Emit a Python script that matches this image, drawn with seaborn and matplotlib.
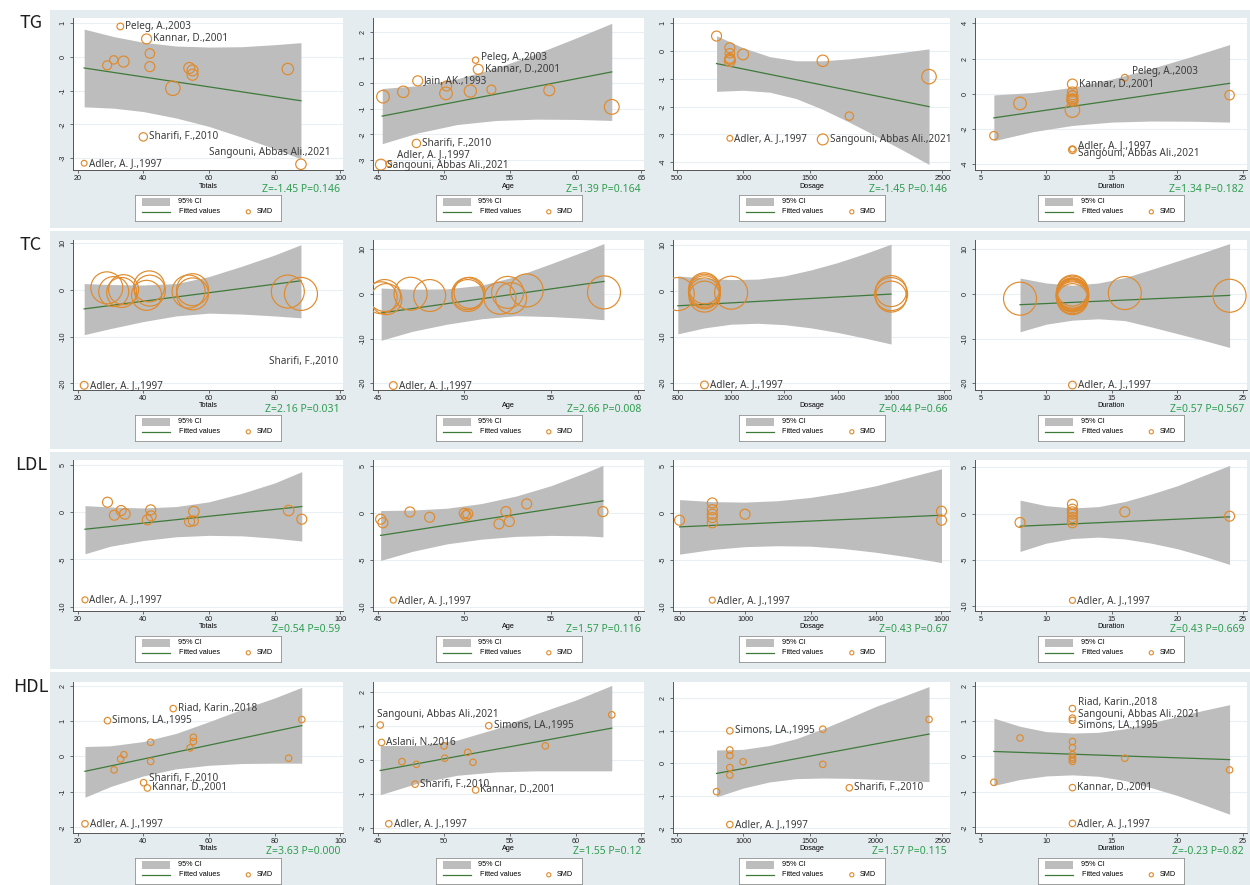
import numpy as np
import pandas as pd
import matplotlib
matplotlib.use("Agg")
import matplotlib.pyplot as plt
import seaborn as sns
from matplotlib.patches import Rectangle


# ==== data: (covariate, SMD, weight, study label) ====
TG_TOTALS = [
    (22, -3.15, 0.33, "Adler, A. J.,1997"), (33, 0.90, 0.45, "Peleg, A.,2003"),
    (41, 0.53, 1.00, "Kannar, D.,2001"), (42, 0.10, 0.90, ""), (29, -0.25, 0.81, ""),
    (31, -0.09, 0.70, ""), (34, -0.14, 1.21, ""), (42, -0.29, 1.00, ""),
    (54, -0.33, 1.21, ""), (55, -0.40, 1.21, ""), (55, -0.53, 1.21, ""),
    (49, -0.93, 2.10, ""), (84, -0.36, 1.30, ""), (40, -2.37, 0.70, "Sharifi, F.,2010"),
    (88, -3.18, 1.10, "Sangouni, Abbas Ali.,2021"),
]
TG_AGE = [
    (45.8, -3.15, 0.33, "Adler, A. J.,1997"), (52.4, 0.91, 0.40, "Peleg, A.,2003"),
    (52.6, 0.55, 1.00, "Kannar, D.,2001"), (48.0, 0.10, 1.00, "Jain, AK.,1993"),
    (50.2, -0.10, 1.00, ""), (50.15, -0.39, 1.60, ""), (45.36, -0.52, 1.60, ""),
    (46.9, -0.33, 1.30, ""), (52.0, -0.30, 1.50, ""), (53.6, -0.24, 0.80, ""),
    (58.0, -0.27, 1.20, ""), (62.75, -0.92, 2.20, ""), (47.9, -2.35, 0.70, "Sharifi, F.,2010"),
    (45.2, -3.18, 1.20, "Sangouni, Abbas Ali.,2021"),
]
TG_DOSAGE = [
    (900, -3.14, 0.33, "Adler, A. J.,1997"), (800, 0.54, 1.00, ""), (900, 0.12, 1.00, ""),
    (900, -0.08, 0.90, ""), (900, -0.26, 1.00, ""), (900, -0.36, 1.20, ""),
    (900, -0.30, 1.00, ""), (1000, -0.12, 1.20, ""), (1600, -0.35, 1.30, ""),
    (2400, -0.92, 2.10, ""), (1800, -2.34, 0.70, ""),
    (1600, -3.18, 1.20, "Sangouni, Abbas Ali.,2021"),
]
TG_DURATION = [
    (12, -3.15, 0.33, "Adler, A. J.,1997"), (12, -3.18, 0.60, "Sangouni, Abbas Ali.,2021"),
    (6, -2.38, 0.70, ""), (8, -0.55, 1.60, ""), (12, 0.55, 1.00, "Kannar, D.,2001"),
    (12, 0.10, 1.00, ""), (12, -0.09, 0.80, ""), (12, -0.14, 1.20, ""),
    (12, -0.29, 1.00, ""), (12, -0.33, 1.20, ""), (12, -0.40, 1.20, ""),
    (12, -0.93, 2.10, ""), (16, 0.91, 0.45, "Peleg, A.,2003"), (24, -0.08, 0.90, ""),
]

TC_TOTALS = [
    (22, -20.4, 0.60, "Adler, A. J.,1997"), (28.9, 0.4, 10.2, ""), (31, -0.4, 9.0, ""),
    (33.4, -0.6, 9.0, ""), (34, 0.0, 9.0, ""), (41.8, 0.7, 9.6, ""), (42, -0.2, 9.6, ""),
    (41, -1.2, 9.0, ""), (53.8, -0.4, 10.9, ""), (55, -0.9, 10.2, ""), (55, 0.0, 10.2, ""),
    (84, -0.4, 10.9, ""), (88, -0.9, 10.9, ""),
]
TC_AGE = [
    (45.9, -20.5, 0.60, "Adler, A. J.,1997"), (45.2, -0.9, 10.2, ""), (45.4, -0.4, 10.2, ""),
    (45.5, -1.2, 9.6, ""), (46.9, 0.0, 10.9, ""), (48.0, -0.4, 10.2, ""),
    (50.2, 0.0, 10.2, ""), (50.2, -0.4, 10.2, ""), (50.3, 0.2, 9.6, ""),
    (52.06, -1.0, 10.2, ""), (52.5, 0.3, 10.2, ""), (52.7, -1.0, 9.6, ""),
    (53.6, 0.74, 10.9, ""), (58.06, 0.3, 10.9, ""),
]
TC_DOSAGE = [
    (900, -20.4, 0.60, "Adler, A. J.,1997"), (800, -0.65, 10.9, ""), (900, 0.2, 10.2, ""),
    (900, -0.15, 10.2, ""), (900, -0.5, 9.6, ""), (900, -1.2, 9.6, ""), (900, 0.6, 9.6, ""),
    (1000, -0.36, 10.9, ""), (1600, -0.65, 10.9, ""), (1600, 0.0, 9.6, ""),
    (1600, -1.2, 9.6, ""),
]
TC_DURATION = [
    (12, -20.4, 0.60, "Adler, A. J.,1997"), (8, -1.1, 10.9, ""), (12, 0.7, 9.6, ""),
    (12, 0.36, 10.2, ""), (12, 0.0, 9.6, ""), (12, 0.0, 10.2, ""), (12, -0.2, 9.6, ""),
    (12, -0.36, 10.9, ""), (12, -0.36, 9.6, ""), (12, -0.6, 9.6, ""), (12, -0.9, 10.2, ""),
    (12, -1.2, 9.6, ""), (16, 0.15, 10.9, ""), (24, -0.45, 10.9, ""),
]
TC_NOTES = [(78.4, -15.3, "Sharifi, F.,2010")]

LDL_TOTALS = [
    (22.25, -9.28, 0.36, "Adler, A. J.,1997"), (29.1, 1.06, 1.0, ""), (31.2, -0.32, 1.0, ""),
    (33.25, 0.18, 1.0, ""), (34.4, -0.18, 1.1, ""), (41.25, -0.81, 1.0, ""),
    (42.25, 0.25, 1.0, ""), (42.4, -0.39, 1.0, ""), (54.1, -0.99, 1.0, ""),
    (55.4, 0.07, 1.1, ""), (55.25, -0.92, 1.0, ""), (84.25, 0.18, 1.1, ""),
    (88.25, -0.74, 1.0, ""),
]
LDL_AGE = [
    (45.9, -9.3, 0.36, "Adler, A. J.,1997"), (45.17, -0.67, 1.0, ""), (45.3, -1.06, 1.0, ""),
    (46.86, 0.10, 1.0, ""), (48.0, -0.46, 1.0, ""), (50.0, -0.04, 1.0, ""),
    (50.1, -0.28, 1.0, ""), (50.2, -0.10, 1.0, ""), (52.0, -1.17, 1.0, ""),
    (52.4, 0.14, 1.0, ""), (52.6, -0.92, 1.0, ""), (53.6, 0.96, 1.0, ""),
    (58.0, 0.14, 1.0, ""),
]
LDL_DOSAGE = [
    (900, -9.3, 0.36, "Adler, A. J.,1997"), (800, -0.78, 1.0, ""), (900, 1.06, 1.0, ""),
    (900, 0.35, 1.0, ""), (900, -0.14, 1.0, ""), (900, -0.50, 1.0, ""),
    (900, -1.06, 1.0, ""), (1000, -0.14, 1.0, ""), (1600, 0.18, 1.0, ""),
    (1600, -0.78, 1.0, ""),
]
LDL_DURATION = [
    (12, -9.39, 0.36, "Adler, A. J.,1997"), (8, -0.97, 1.0, ""), (12, 1.00, 1.0, ""),
    (12, 0.47, 1.0, ""), (12, 0.18, 1.0, ""), (12, -0.07, 1.0, ""), (12, -0.43, 1.0, ""),
    (12, -0.72, 1.0, ""), (12, -1.00, 1.0, ""), (16, 0.18, 1.0, ""), (24, -0.29, 1.0, ""),
]

HDL_TOTALS = [
    (22.25, -1.90, 0.42, "Adler, A. J.,1997"), (49.1, 1.35, 0.42, "Riad, Karin.,2018"),
    (29.1, 1.01, 0.42, "Simons, LA.,1995"), (88.25, 1.04, 0.42, ""), (42.25, 0.40, 0.42, ""),
    (55.25, 0.54, 0.42, ""), (55.25, 0.42, 0.42, ""), (54.25, 0.24, 0.42, ""),
    (34.1, 0.05, 0.42, ""), (33.1, -0.07, 0.42, ""), (42.25, -0.14, 0.42, ""),
    (31.1, -0.38, 0.42, ""), (84.25, -0.05, 0.42, ""),
    (40.1, -0.74, 0.42, "Sharifi, F.,2010"), (41.25, -0.89, 0.42, "Kannar, D.,2001"),
]
HDL_AGE = [
    (45.8, -1.87, 0.42, "Adler, A. J.,1997"), (45.15, 1.02, 0.42, "Sangouni, Abbas Ali.,2021"),
    (45.25, 0.51, 0.42, "Aslani, N.,2016"), (53.4, 1.00, 0.42, "Simons, LA.,1995"),
    (62.75, 1.32, 0.42, ""), (46.8, -0.05, 0.42, ""), (47.9, -0.13, 0.42, ""),
    (47.8, -0.71, 0.42, "Sharifi, F.,2010"), (50.0, 0.41, 0.42, ""), (50.05, 0.05, 0.42, ""),
    (51.8, 0.22, 0.42, ""), (52.2, -0.07, 0.42, ""), (52.4, -0.88, 0.42, "Kannar, D.,2001"),
    (57.7, 0.41, 0.42, ""),
]
HDL_DOSAGE = [
    (900, -1.88, 0.42, "Adler, A. J.,1997"), (900, 1.00, 0.42, "Simons, LA.,1995"),
    (900, 0.41, 0.42, ""), (900, 0.24, 0.42, ""), (900, -0.13, 0.42, ""),
    (900, -0.36, 0.42, ""), (1000, 0.05, 0.42, ""), (1600, 1.05, 0.42, ""),
    (1600, -0.03, 0.42, ""), (800, -0.87, 0.42, ""), (2400, 1.35, 0.42, ""),
    (1800, -0.75, 0.42, "Sharifi, F.,2010"),
]
HDL_DURATION = [
    (12, -1.89, 0.42, "Adler, A. J.,1997"), (12, 1.35, 0.42, "Riad, Karin.,2018"),
    (12, 1.08, 0.42, "Sangouni, Abbas Ali.,2021"), (12, 1.02, 0.42, "Simons, LA.,1995"),
    (12, 0.42, 0.42, ""), (12, 0.25, 0.42, ""), (12, 0.05, 0.42, ""), (12, -0.03, 0.42, ""),
    (12, -0.08, 0.42, ""), (12, -0.14, 0.42, ""), (12, -0.88, 0.42, "Kannar, D.,2001"),
    (6, -0.73, 0.42, ""), (8, 0.52, 0.42, ""), (16, -0.05, 0.42, ""), (24, -0.38, 0.42, ""),
]

# ==== 95% CI bands: (x, lower, upper) ====
TG_TOTALS_CI = [(22, -1.48, 0.82), (31, -1.52, 0.60), (40, -1.62, 0.43), (50, -1.81, 0.32),
                (60, -2.06, 0.29), (70, -2.38, 0.30), (80, -2.72, 0.36), (88, -3.02, 0.42)]
TG_AGE_CI = [(45.3, -2.36, -0.20), (48, -1.94, -0.09), (51, -1.61, 0.18), (54, -1.45, 0.61),
             (57, -1.40, 1.16), (60, -1.41, 1.77), (62.75, -1.45, 2.35)]
TG_DOSAGE_CI = [(800, -1.45, 0.55), (1000, -1.41, 0.12), (1200, -1.48, -0.20),
                (1400, -1.71, -0.35), (1600, -2.10, -0.35), (1800, -2.56, -0.28),
                (2000, -3.05, -0.17), (2200, -3.56, -0.05), (2400, -4.08, 0.08)]
TG_DURATION_CI = [(6, -2.67, -0.07), (9, -2.15, 0.07), (12, -1.80, 0.36), (15, -1.61, 0.83),
                  (18, -1.55, 1.43), (21, -1.56, 2.09), (24, -1.61, 2.79)]
TC_TOTALS_CI = [(22, -9.6, 1.3), (30, -8.3, 1.1), (40, -6.8, 1.0), (50, -5.6, 1.3),
                (60, -5.0, 2.8), (70, -5.2, 5.0), (80, -5.6, 7.4), (88, -6.0, 9.6)]
TC_AGE_CI = [(45.2, -10.4, 1.27), (47, -8.4, 1.0), (49, -6.8, 1.1), (51, -5.6, 1.9),
             (53, -4.9, 3.9), (55, -5.1, 6.7), (57, -5.5, 9.6), (58.06, -5.8, 11.2)]
TC_DOSAGE_CI = [(800, -9.3, 3.3), (900, -8.0, 2.8), (1000, -7.2, 2.5), (1100, -7.0, 2.6),
                (1200, -7.3, 3.3), (1300, -8.0, 4.6), (1400, -9.0, 6.2), (1500, -10.2, 8.1),
                (1600, -11.5, 10.2)]
TC_DURATION_CI = [(8, -8.5, 3.5), (10, -6.8, 2.4), (12, -5.9, 1.9), (14, -5.6, 2.4),
                  (16, -6.0, 3.6), (18, -7.4, 5.4), (20, -8.9, 7.3), (22, -10.4, 9.2),
                  (24, -12.0, 11.2)]
LDL_TOTALS_CI = [(22.25, -4.4, 0.7), (30, -3.6, 0.55), (40, -3.0, 0.45), (50, -2.6, 0.6),
                 (60, -2.45, 1.1), (70, -2.5, 2.0), (80, -2.75, 3.1), (88.25, -3.05, 4.3)]
LDL_AGE_CI = [(45.17, -5.07, 0.25), (47, -4.1, 0.3), (49, -3.3, 0.5), (51, -2.8, 1.0),
              (53, -2.5, 1.8), (55, -2.4, 2.9), (57, -2.45, 4.3), (58, -2.55, 5.07)]
LDL_DOSAGE_CI = [(800, -4.4, 1.42), (900, -3.9, 1.2), (1000, -3.6, 1.15), (1100, -3.5, 1.3),
                 (1200, -3.55, 1.65), (1300, -3.8, 2.2), (1400, -4.2, 2.9), (1500, -4.7, 3.8),
                 (1600, -5.3, 4.7)]
LDL_DURATION_CI = [(8, -4.1, 1.45), (10, -3.2, 0.85), (12, -2.7, 0.6), (14, -2.55, 0.75),
                   (16, -2.75, 1.3), (18, -3.2, 2.1), (20, -3.8, 3.0), (22, -4.6, 4.1),
                   (24, -5.5, 5.2)]
HDL_TOTALS_CI = [(22.25, -1.15, 0.28), (30, -0.85, 0.30), (40, -0.55, 0.42), (50, -0.35, 0.65),
                 (60, -0.25, 0.98), (70, -0.20, 1.33), (80, -0.19, 1.65), (88.25, -0.19, 1.95)]
HDL_AGE_CI = [(45.15, -1.02, 0.42), (48, -0.68, 0.42), (51, -0.45, 0.58), (54, -0.35, 0.92),
              (57, -0.32, 1.35), (60, -0.32, 1.75), (62.75, -0.32, 2.18)]
HDL_DOSAGE_CI = [(800, -1.03, 0.41), (1000, -0.76, 0.43), (1200, -0.57, 0.55),
                 (1400, -0.47, 0.76), (1600, -0.45, 1.06), (1800, -0.46, 1.40),
                 (2000, -0.49, 1.75), (2200, -0.53, 2.05), (2400, -0.56, 2.36)]
HDL_DURATION_CI = [(6, -0.82, 1.08), (8, -0.65, 0.85), (10, -0.55, 0.70), (12, -0.52, 0.66),
                   (14, -0.56, 0.68), (16, -0.68, 0.78), (18, -0.88, 0.95), (20, -1.10, 1.12),
                   (22, -1.36, 1.30), (24, -1.63, 1.46)]

# ==== fitted lines (two end points) ====
TG_FITS = [[(22, -0.33), (88, -1.30)], [(45.3, -1.28), (62.75, 0.45)],
           [(800, -0.45), (2400, -2.0)], [(6, -1.37), (24, 0.59)]]
TC_FITS = [[(22, -4.1), (88, 1.9)], [(45.2, -4.3), (58.06, 2.75)],
           [(800, -3.2), (1600, -0.65)], [(8, -2.45), (24, -0.37)]]
LDL_FITS = [[(22.25, -1.8), (88.25, 0.6)], [(45.17, -2.4), (58.0, 1.28)],
            [(800, -1.49), (1600, -0.25)], [(8, -1.37), (24, -0.36)]]
HDL_FITS = [[(22.25, -0.42), (88.25, 0.87)], [(45.15, -0.31), (62.75, 0.93)],
            [(800, -0.31), (2400, 0.90)], [(6, 0.14), (24, -0.09)]]

# ==== test statistics ====
TG_Z = ["Z=-1.45 P=0.146", "Z=1.39 P=0.164", "Z=-1.45 P=0.146", "Z=1.34 P=0.182"]
TC_Z = ["Z=2.16 P=0.031", "Z=2.66 P=0.008", "Z=0.44 P=0.66", "Z=0.57 P=0.567"]
LDL_Z = ["Z=0.54 P=0.59", "Z=1.57 P=0.116", "Z=0.43 P=0.67", "Z=0.43 P=0.669"]
HDL_Z = ["Z=3.63 P=0.000", "Z=1.55 P=0.12", "Z=1.57 P=0.115", "Z=-0.23 P=0.82"]

OUTCOMES = ["TG", "TC", "LDL", "HDL"]
COVARIATES = ["Totals", "Age", "Dosage", "Duration"]

PANELS = {
    "TG": ([TG_TOTALS, TG_AGE, TG_DOSAGE, TG_DURATION],
           [TG_TOTALS_CI, TG_AGE_CI, TG_DOSAGE_CI, TG_DURATION_CI], TG_FITS, TG_Z),
    "TC": ([TC_TOTALS, TC_AGE, TC_DOSAGE, TC_DURATION],
           [TC_TOTALS_CI, TC_AGE_CI, TC_DOSAGE_CI, TC_DURATION_CI], TC_FITS, TC_Z),
    "LDL": ([LDL_TOTALS, LDL_AGE, LDL_DOSAGE, LDL_DURATION],
            [LDL_TOTALS_CI, LDL_AGE_CI, LDL_DOSAGE_CI, LDL_DURATION_CI], LDL_FITS, LDL_Z),
    "HDL": ([HDL_TOTALS, HDL_AGE, HDL_DOSAGE, HDL_DURATION],
            [HDL_TOTALS_CI, HDL_AGE_CI, HDL_DOSAGE_CI, HDL_DURATION_CI], HDL_FITS, HDL_Z),
}

# ==== axis setup per panel: xlim, xticks, ylim, yticks ====
X_TOT = ((18.6, 100.8), [20, 40, 60, 80, 100])
X_AGE_L = ((44.6, 65.2), [45, 50, 55, 60, 65])
X_AGE_S = ((44.73, 60.37), [45, 50, 55, 60])
X_DOS_L = ((472, 2558), [500, 1000, 1500, 2000, 2500])
X_DUR = ((4.56, 25.33), [5, 10, 15, 20, 25])
AXES = {
    "TG": [(X_TOT, (-3.35, 1.15), [-3, -2, -1, 0, 1]),
           (X_AGE_L, (-3.39, 2.56), [-3, -2, -1, 0, 1, 2]),
           (X_DOS_L, (-4.28, 1.19), [-4, -3, -2, -1, 0, 1]),
           (X_DUR, (-4.33, 4.3), [-4, -2, 0, 2, 4])],
    "TC": [(X_TOT, (-21.4, 10.6), [-20, -10, 0, 10]),
           (X_AGE_S, (-21.5, 12.0), [-20, -10, 0, 10]),
           (((782, 1821), [800, 1000, 1200, 1400, 1600, 1800]), (-21.5, 11.1), [-20, -10, 0, 10]),
           (X_DUR, (-21.5, 12.0), [-20, -10, 0, 10])],
    "LDL": [(X_TOT, (-10.46, 5.53), [-10, -5, 0, 5]),
            (X_AGE_S, (-10.46, 5.64), [-10, -5, 0, 5]),
            (((780, 1626), [800, 1000, 1200, 1400, 1600]), (-10.46, 5.64), [-10, -5, 0, 5]),
            (X_DUR, (-10.54, 5.79), [-10, -5, 0, 5])],
    "HDL": [(X_TOT, (-2.16, 2.1), [-2, -1, 0, 1, 2]),
            (X_AGE_L, (-2.14, 2.28), [-2, -1, 0, 1, 2]),
            (X_DOS_L, (-2.14, 2.5), [-2, -1, 0, 1, 2]),
            (X_DUR, (-2.16, 2.1), [-2, -1, 0, 1, 2])],
}

# label nudges in pixels: (dx, dy, ha)
LABEL_NUDGE = {
    ("TG", 0, "Sangouni, Abbas Ali.,2021"): (30, 12, "right"),
    ("TG", 1, "Adler, A. J.,1997"): (8, 9, "left"),
    ("TG", 1, "Sangouni, Abbas Ali.,2021"): (6, -1, "left"),
    ("TG", 1, "Peleg, A.,2003"): (5, 3, "left"),
    ("TG", 3, "Adler, A. J.,1997"): (6, 4, "left"),
    ("TG", 3, "Sangouni, Abbas Ali.,2021"): (6, -4, "left"),
    ("TG", 3, "Peleg, A.,2003"): (7, 6, "left"),
    ("HDL", 0, "Sharifi, F.,2010"): (5, 4, "left"),
    ("HDL", 1, "Sangouni, Abbas Ali.,2021"): (-3, 11, "left"),
    ("HDL", 3, "Riad, Karin.,2018"): (6, 6, "left"),
    ("HDL", 3, "Sangouni, Abbas Ali.,2021"): (6, 4, "left"),
    ("HDL", 3, "Simons, LA.,1995"): (6, -5, "left"),
}

# ==== layout / style ====
W, H = 1250, 885
COL_L = [73, 373, 673, 975]
COL_R = [343, 644, 950, 1247]
ROW_T = [18, 240, 460, 682]
ROW_B = [170, 390, 611, 833]
ROW_BG = [(10, 228), (231, 449), (452, 669), (672, 885)]
BG = "#e5ecf0"
GRID = "#e9eff2"
CI_GRAY = "#bdbdbd"
FIT_GREEN = "#3e7a3a"
ORANGE = "#e08a2c"
Z_GREEN = "#2f9e4f"
LABEL_COLOR = "#3c3c3c"
PX = 0.72  # points per pixel at 100 dpi
S_SCALE = 100 * PX * PX

plt.rcParams["font.family"] = ["Liberation Sans", "DejaVu Sans"]
plt.rcParams["axes.unicode_minus"] = False


def fx(px):
    return px / W


def fy(py):
    return 1 - py / H


def draw_panel(ax, outcome, j, pts, ci, fit, axes_cfg):
    (xlim, xticks), ylim, yticks = axes_cfg
    ax.set_facecolor("white")
    ci_df = pd.DataFrame(ci, columns=["x", "lo", "hi"])
    ax.fill_between(ci_df["x"], ci_df["lo"], ci_df["hi"], color=CI_GRAY,
                    linewidth=0, zorder=1)
    fit_df = pd.DataFrame(fit, columns=["x", "y"])
    sns.lineplot(data=fit_df, x="x", y="y", ax=ax, color=FIT_GREEN,
                 linewidth=0.9, zorder=2)
    df = pd.DataFrame(pts, columns=["x", "smd", "w", "label"])
    sns.scatterplot(data=df, x="x", y="smd", ax=ax, s=df["w"] * S_SCALE,
                    color="none", edgecolor=ORANGE, linewidth=0.85,
                    zorder=3, legend=False)
    for _, r in df.iterrows():
        if not r["label"]:
            continue
        rad = np.sqrt(r["w"] * 100) / 2
        dx, dy, ha = LABEL_NUDGE.get((outcome, j, r["label"]), (rad + 1.5, 0, "left"))
        ax.annotate(r["label"], (r["x"], r["smd"]), xytext=(dx * PX, dy * PX),
                    textcoords="offset points", ha=ha, va="center", fontsize=7.2,
                    family="Noto Sans", color=LABEL_COLOR, zorder=4,
                    annotation_clip=False)

    ax.set_xlim(*xlim)
    ax.set_ylim(*ylim)
    ax.set_xticks(xticks)
    ax.set_yticks(yticks)
    ax.set_xlabel("")
    ax.set_ylabel("")
    ax.yaxis.grid(True, color=GRID, linewidth=0.8)
    ax.xaxis.grid(False)
    ax.set_axisbelow(True)
    for s in ["top", "right"]:
        ax.spines[s].set_visible(False)
    for s in ["left", "bottom"]:
        ax.spines[s].set_color("#555555")
        ax.spines[s].set_linewidth(0.7)
    ax.tick_params(axis="both", length=2.4, width=0.6, color="#555555",
                   labelsize=5.2, labelcolor="#222222", pad=1.2)
    ax.tick_params(axis="y", labelrotation=90, pad=2)
    plt.setp(ax.get_yticklabels(), va="center")


def draw_legend(fig, cx, top):
    lw_, lh_ = 146, 26
    leg = fig.add_axes([fx(cx - lw_ / 2), fy(top + lh_), lw_ / W, lh_ / H])
    leg.set_xlim(0, lw_)
    leg.set_ylim(lh_, 0)
    leg.set_xticks([])
    leg.set_yticks([])
    leg.set_facecolor("white")
    for s in leg.spines.values():
        s.set_color("#8f8f8f")
        s.set_linewidth(0.6)
    leg.add_patch(Rectangle((7, 2.5), 28, 8.5, color=CI_GRAY, linewidth=0))
    leg.text(43, 6.8, "95% CI", va="center", fontsize=5.2)
    leg.plot([7, 35], [16.8, 16.8], color=FIT_GREEN, linewidth=0.9)
    leg.text(44, 16.8, "Fitted values", va="center", fontsize=5.2)
    leg.scatter([113.3], [16.8], s=9, facecolor="none", edgecolor=ORANGE, linewidth=0.8)
    leg.text(121.5, 16.8, "SMD", va="center", fontsize=5.2)


fig = plt.figure(figsize=(W / 100, H / 100), dpi=100)
fig.patch.set_facecolor("white")

for i, outcome in enumerate(OUTCOMES):
    top_bg, bot_bg = ROW_BG[i]
    fig.patches.append(Rectangle((fx(50), fy(bot_bg)), fx(1250) - fx(50), (bot_bg - top_bg) / H,
                                 transform=fig.transFigure, facecolor=BG,
                                 edgecolor="none", zorder=-5))
    fig.text(fx(31), fy(ROW_T[i] + 5), outcome, ha="center", va="center",
             fontsize=13, family=["Noto Sans CJK SC", "Noto Sans"], weight="medium",
             color="#1e1e1e")
    pts_list, ci_list, fits, zs = PANELS[outcome]
    for j, cov in enumerate(COVARIATES):
        ax = fig.add_axes([fx(COL_L[j]), fy(ROW_B[i]), (COL_R[j] - COL_L[j]) / W,
                           (ROW_B[i] - ROW_T[i]) / H])
        draw_panel(ax, outcome, j, pts_list[j], ci_list[j], fits[j], AXES[outcome][j])
        if outcome == "TC" and j == 0:
            for nx, ny, nt in TC_NOTES:
                ax.text(nx, ny, nt, ha="left", va="center", fontsize=7.2,
                        family="Noto Sans", color=LABEL_COLOR, zorder=4)
        cx = (COL_L[j] + COL_R[j]) / 2
        fig.text(fx(cx), fy(ROW_B[i] + 16), cov, ha="center", va="center", fontsize=5.2)
        fig.text(fx(COL_R[j] - 3), fy(ROW_B[i] + 19), zs[j], ha="right", va="center",
                 fontsize=7.5, family="Noto Sans", color=Z_GREEN)
        draw_legend(fig, cx, ROW_B[i] + 25)

fig.savefig("out.png", dpi=100, facecolor="white")
